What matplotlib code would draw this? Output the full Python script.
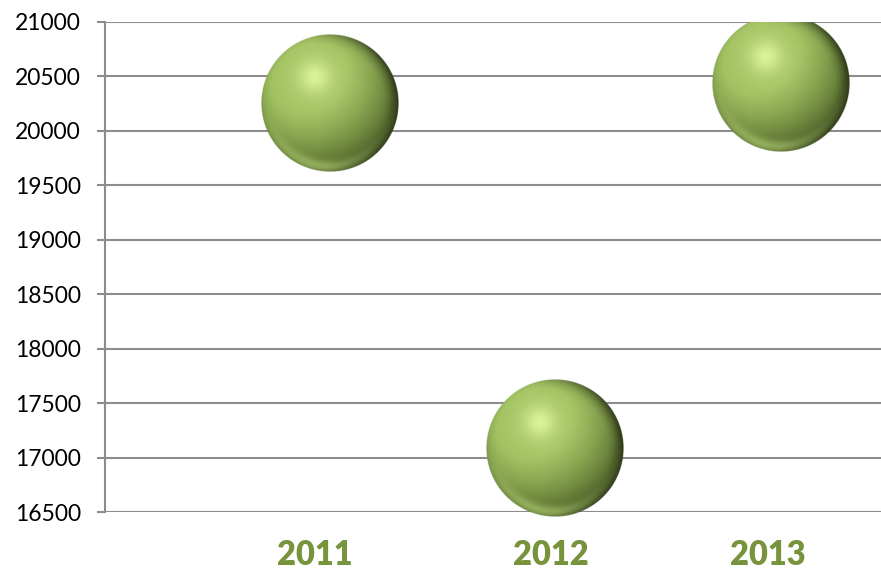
import numpy as np
import matplotlib
matplotlib.use("Agg")
import matplotlib.pyplot as plt
from matplotlib.transforms import blended_transform_factory
from matplotlib.patches import Rectangle

# ---- data ----
years = ["2011", "2012", "2013"]
x_pos = [1, 2, 3]
values = [20253, 17094, 20433]
y_ticks = [16500, 17000, 17500, 18000, 18500, 19000, 19500, 20000, 20500, 21000]

# ---- style ----
label_offsets_px = [-15, -5, -13]
bubble_radius_px = 69
grid_color = "#8c8c8c"
label_color = "#77933C"
plt.rcParams['font.family'] = ['Lato', 'DejaVu Sans']

W, H, DPI = 881, 570, 100
fig = plt.figure(figsize=(W / DPI, H / DPI), dpi=DPI)
ax = fig.add_axes([104.7 / W, 1 - 512.3 / H, 1 - 104.7 / W, (512.3 - 21.5) / H])
ax.set_xlim(0, 3.445)
ax.set_ylim(16500, 21000)
ax.set_yticks(y_ticks)
ax.set_yticklabels([str(v) for v in y_ticks], fontsize=16.5, color="#000000")
ax.set_xticks([])
for s in ["top", "right", "bottom"]:
    ax.spines[s].set_visible(False)
ax.spines["left"].set_color(grid_color)
ax.spines["left"].set_linewidth(1.5)
ax.tick_params(axis="y", length=6, width=1.5, color=grid_color, pad=11)
ax.grid(axis="y", color=grid_color, linewidth=1.5)
ax.set_axisbelow(True)


def sphere_image(n=300):
    t = np.linspace(-1, 1, n)
    u, v = np.meshgrid(t, -t)  # v positive up
    r = np.sqrt(u ** 2 + v ** 2)
    z = np.sqrt(np.clip(1 - r ** 2, 0, 1))
    L = np.array([-0.35, 0.45, 0.82])
    L = L / np.linalg.norm(L)
    diff = np.clip(u * L[0] + v * L[1] + z * L[2], 0, 1)
    base = np.array([0.62, 0.75, 0.37])
    dark = np.array([0.22, 0.28, 0.10])
    k = np.clip(0.3 + 0.85 * diff, 0, 1)
    col = dark[None, None, :] * (1 - k)[..., None] + base[None, None, :] * k[..., None]
    # soft highlight
    hx, hy = -0.22, 0.38
    d2 = (u - hx) ** 2 + (v - hy) ** 2
    spec = np.exp(-d2 / 0.05) * 0.55 + np.exp(-d2 / 0.3) * 0.25
    hl = np.array([0.92, 1.0, 0.66])
    col = col * (1 - spec[..., None]) + hl[None, None, :] * spec[..., None]
    # bottom rim reflected light
    rim = np.exp(-((r - 0.92) ** 2) / 0.008) * np.clip(-v, 0, 1) ** 1.2 * np.clip(1 - u * 0.8, 0, 1)
    rimc = np.array([0.68, 0.80, 0.44])
    a = np.clip(rim * 0.8, 0, 1)
    col = col * (1 - a[..., None]) + rimc[None, None, :] * a[..., None]
    # right edge darkening
    edge = np.clip((r - 0.75) / 0.25, 0, 1) ** 2 * np.clip(u + 0.3, 0, 1)
    col = col * (1 - 0.5 * edge[..., None])
    alpha = np.clip((1 - r) * n / 2, 0, 1)
    return np.dstack([np.clip(col, 0, 1), alpha])


img = sphere_image()
fig.canvas.draw()
clip_rect = Rectangle((0, -0.02), 1, 1.02, transform=ax.transAxes, facecolor="none", edgecolor="none")
ax.add_patch(clip_rect)
inv = ax.transData.inverted()
for xv, yv in zip(x_pos, values):
    cx, cy = ax.transData.transform((xv, yv))
    x0, y0 = inv.transform((cx - bubble_radius_px, cy - bubble_radius_px))
    x1, y1 = inv.transform((cx + bubble_radius_px, cy + bubble_radius_px))
    im = ax.imshow(img, extent=[x0, x1, y0, y1], aspect="auto", zorder=3,
                   interpolation="antialiased", clip_on=True)
    im.set_clip_path(clip_rect)

ax.set_xlim(0, 3.445)
ax.set_ylim(16500, 21000)

trans = blended_transform_factory(ax.transData, fig.transFigure)
for xv, lab, off in zip(x_pos, years, label_offsets_px):
    cx, _ = ax.transData.transform((xv, 0))
    xd, _ = inv.transform((cx + off, 0))
    ax.text(xd, 1 - 565 / H, lab, transform=trans, ha="center", va="baseline",
            fontsize=23.5, fontweight="heavy", color=label_color, clip_on=False)

fig.savefig("out.png", dpi=DPI)
